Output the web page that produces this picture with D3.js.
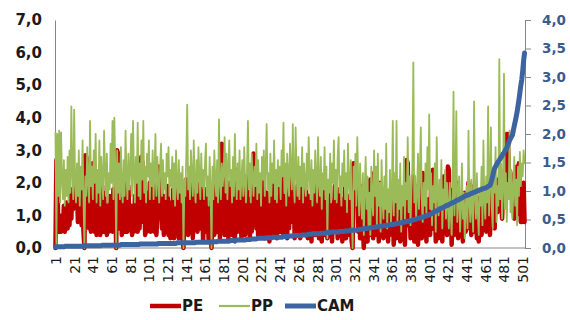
<!DOCTYPE html>
<html lang="en">
<head>
    <meta charset="UTF-8">
    <title>PE / PP / CAM</title>
    <script src="https://d3js.org/d3.v7.min.js"></script>
    <style>
        body { margin: 0; background: #fff; }
        svg { display: block; }
        .lab { font-family: "DejaVu Sans", sans-serif; }
    </style>
</head>
<body>
<svg width="570" height="320"></svg>
<script>
    const pe = [
        0.0,2.7,2.6,0.5,0.6,0.8,0.5,1.0,0.6,1.3,0.5,0.9,1.4,0.6,1.1,0.7,1.6,0.9,1.8,1.2,
        1.5,2.0,1.4,1.9,0.8,1.6,1.0,2.0,0.7,1.2,0.5,0.0,2.85,2.8,2.6,1.1,0.6,1.8,0.5,1.5,
        2.6,2.5,0.5,1.2,0.4,1.9,0.6,1.4,0.4,1.0,1.9,0.5,1.7,0.8,1.3,0.4,1.1,0.5,1.6,0.7,
        1.2,0.5,1.8,0.9,1.4,0.0,3.0,2.9,2.2,0.6,1.5,0.4,1.3,0.8,2.1,0.5,1.2,0.5,1.9,1.0,
        0.6,1.3,0.4,1.0,0.5,1.6,0.7,2.2,0.5,1.1,0.6,1.8,2.8,2.6,0.8,1.5,0.4,1.2,0.5,1.7,
        0.7,2.0,0.5,1.0,2.2,1.5,0.5,1.2,0.4,0.9,2.5,2.4,1.3,2.0,0.6,1.4,0.4,1.6,0.5,1.1,
        1.9,0.4,0.8,0.3,1.4,0.6,1.8,0.3,1.0,2.0,0.5,1.3,0.3,1.7,0.8,2.0,0.3,0.0,1.1,0.6,
        2.1,1.8,0.4,1.2,2.0,0.9,1.6,0.3,1.1,0.7,1.9,1.5,0.5,1.8,1.0,2.0,0.6,1.4,0.2,1.2,
        1.8,0.5,1.6,0.9,0.2,1.4,0.6,0.0,1.3,1.9,0.4,1.1,0.7,2.0,0.5,1.5,0.3,1.8,3.2,3.1,
        2.4,0.4,1.7,0.8,1.3,0.3,2.0,0.6,1.1,0.4,1.6,0.9,0.2,1.5,2.4,0.5,1.3,0.7,1.8,0.3,
        1.2,0.6,1.9,0.4,1.0,2.2,0.7,1.5,0.3,1.2,0.5,1.8,2.9,2.8,2.5,0.6,1.3,0.3,1.7,0.9,
        0.4,1.4,0.6,2.1,0.3,1.0,1.7,0.5,1.2,0.2,1.6,0.8,2.0,0.4,1.1,0.6,1.5,0.3,1.9,0.7,
        1.3,0.5,2.2,0.9,0.4,1.6,0.7,1.2,0.3,2.0,0.6,1.4,2.6,2.5,0.8,1.7,0.3,1.1,0.5,1.9,
        0.6,1.3,0.3,1.8,2.1,0.5,1.5,0.4,1.9,1.0,0.3,1.6,0.6,1.2,0.2,1.7,0.7,1.4,0.4,2.0,
        0.8,1.3,0.3,1.8,0.5,0.2,1.5,0.9,1.9,0.4,1.2,0.3,1.6,2.0,0.6,1.4,0.2,1.1,0.7,1.9,
        0.5,1.7,0.3,1.0,1.8,0.4,1.3,0.2,1.5,0.6,2.0,0.3,1.2,0.8,1.6,0.4,1.1,0.2,0.0,2.6,
        2.6,2.5,1.4,2.1,0.5,1.8,0.3,1.2,1.9,0.6,0.0,1.5,0.4,1.0,0.2,1.3,0.7,2.1,0.4,1.6,
        0.3,2.3,1.2,2.2,0.4,1.5,0.2,1.0,2.0,0.6,1.3,0.3,0.9,1.8,0.5,1.1,0.2,1.6,0.4,1.2,
        0.6,1.4,0.1,0.8,1.7,0.3,1.1,0.5,1.9,0.2,0.9,1.5,0.4,1.2,0.1,1.8,2.7,2.6,0.7,1.3,
        0.3,1.6,0.8,2.2,0.2,1.2,0.5,1.9,0.1,1.0,0.6,1.4,0.3,2.3,1.7,0.4,1.1,0.2,1.5,0.7,
        1.3,0.4,2.0,1.0,2.4,0.6,1.5,0.2,1.8,0.9,0.3,1.2,0.5,1.7,0.2,1.0,2.2,0.6,1.4,0.4,
        2.5,2.4,0.7,1.5,0.1,0.9,1.8,0.4,1.2,0.6,2.0,0.3,1.1,1.6,0.5,1.3,0.2,0.8,1.7,0.5,
        1.4,0.6,2.0,1.0,1.7,0.4,1.3,0.8,1.9,0.5,1.1,0.3,1.5,0.2,0.9,1.6,0.4,1.2,0.6,1.8,
        1.0,0.5,1.7,0.9,2.0,0.4,1.3,0.7,1.9,1.2,0.6,1.5,1.8,1.1,2.1,1.4,2.4,1.6,0.9,1.8,
        2.2,1.5,3.2,3.5,3.5,2.6,1.9,2.3,1.6,2.0,1.3,0.9,1.5,1.0,2.5,1.8,2.6,2.0,0.8,0.8,
        1.6,2.0,0.8
    ];
    const pp = [
        3.55,0.1,3.5,1.6,3.6,1.4,3.55,2.1,1.5,2.7,1.3,2.4,1.6,2.8,1.4,3.0,1.7,4.35,2.3,1.5,
        4.25,2.0,1.4,2.6,1.6,3.0,1.3,2.5,1.8,3.3,1.5,0.0,2.2,1.6,3.1,2.0,1.4,3.9,1.9,2.5,
        1.5,3.0,2.0,3.5,1.4,2.4,1.7,3.3,1.3,2.8,2.2,1.5,3.6,2.4,1.6,2.9,1.4,2.3,1.8,3.2,
        2.0,3.9,1.5,4.0,2.5,0.0,3.0,1.7,2.6,1.5,3.1,2.0,1.4,2.7,1.6,3.6,2.2,1.5,2.9,1.8,
        2.4,3.5,1.6,3.9,2.3,1.4,2.8,2.0,3.85,1.6,2.6,1.5,3.3,2.1,3.9,1.7,2.5,1.4,2.9,2.2,
        3.3,1.5,2.6,1.9,3.0,1.5,2.4,3.5,1.6,2.8,2.1,1.4,2.5,3.2,1.6,2.7,1.8,2.3,1.5,2.9,
        2.2,3.1,1.6,2.4,1.9,2.8,1.5,2.6,1.3,3.0,2.0,1.5,2.7,1.7,2.3,1.4,2.5,0.0,2.1,1.6,
        2.8,4.4,1.8,2.5,1.5,3.0,2.2,1.6,3.3,2.0,1.4,2.7,1.7,3.1,2.3,1.5,2.9,1.9,2.4,1.5,
        2.6,3.2,1.6,2.2,1.3,2.8,1.8,0.0,2.5,1.5,3.0,2.1,1.6,2.7,1.4,3.95,2.0,1.5,2.6,1.9,
        2.3,3.4,1.7,2.9,1.5,2.5,3.3,1.9,2.4,1.4,2.8,1.6,3.5,2.2,1.5,2.6,1.8,3.0,1.5,2.1,
        2.7,1.6,3.1,2.0,1.4,2.4,3.9,1.8,2.6,1.4,2.9,2.2,1.6,2.5,1.9,3.2,1.5,2.7,1.7,2.3,
        1.3,2.8,2.1,3.0,1.6,2.5,3.8,1.8,2.3,1.4,2.9,1.6,2.6,2.0,3.3,1.5,2.4,1.4,2.7,1.9,
        2.5,1.5,3.0,2.2,3.85,1.7,2.6,1.3,2.9,2.0,1.6,3.2,2.4,1.8,3.8,2.1,1.4,3.7,2.3,1.6,
        2.8,1.5,2.5,1.9,3.1,1.4,2.6,2.0,1.6,2.9,1.8,3.4,2.2,1.5,2.7,1.3,2.4,1.7,3.0,2.1,
        1.4,3.4,2.0,1.6,2.8,1.2,2.3,1.8,3.1,1.5,2.5,0.3,2.1,1.7,2.9,1.4,2.6,2.0,3.3,1.5,
        2.4,1.4,2.8,3.4,1.7,2.2,1.3,2.6,1.9,3.0,1.5,2.3,1.1,3.2,2.0,1.5,2.7,1.3,0.0,2.5,
        1.8,2.9,1.3,3.4,2.1,1.0,2.6,1.6,0.9,2.3,0.4,1.9,2.8,1.2,2.2,0.6,1.7,0.4,2.5,1.4,
        1.0,3.0,1.6,2.5,0.7,2.9,1.3,2.0,0.5,2.7,1.5,0.9,2.2,1.2,3.2,0.6,1.8,1.1,2.4,0.8,
        1.6,3.9,1.0,2.3,1.4,3.9,0.8,2.1,1.2,2.6,0.5,1.9,1.3,2.8,0.9,2.0,1.5,3.4,1.1,2.2,
        0.7,1.8,2.5,5.7,1.4,2.2,0.9,1.7,2.9,1.2,2.4,3.7,1.5,0.8,2.0,1.3,2.6,1.0,3.1,1.8,
        4.1,1.2,2.3,0.7,1.9,1.4,2.6,0.5,3.4,1.7,1.0,2.1,1.3,2.7,0.6,1.8,1.2,2.4,0.9,2.0,
        1.3,0.6,2.0,1.1,0.4,1.6,4.8,1.0,1.9,4.2,0.8,1.5,2.2,0.5,1.3,2.6,0.9,1.7,0.3,1.2,
        1.9,0.6,3.6,1.4,0.8,2.1,1.2,0.5,4.5,1.6,0.9,2.3,1.1,0.4,1.8,1.3,2.5,0.7,3.3,1.5,
        0.9,2.2,1.4,4.35,1.0,2.0,3.7,1.2,0.6,2.4,1.7,3.1,0.8,1.9,1.3,5.8,1.5,2.6,0.9,1.8,
        5.35,1.2,2.3,0.8,2.0,1.5,3.6,1.1,2.4,0.9,1.7,2.8,1.3,2.1,0.7,2.5,1.6,2.95,1.9,2.6,
        2.2,3.0,2.6
    ];
    const cam = [
        0.02,0.02,0.02,0.02,0.02,0.02,0.02,0.02,0.02,0.02,0.03,0.03,0.03,0.03,0.03,0.03,0.03,0.03,0.03,0.03,
        0.03,0.03,0.03,0.03,0.03,0.03,0.03,0.03,0.03,0.03,0.04,0.04,0.04,0.04,0.04,0.04,0.04,0.04,0.04,0.04,
        0.04,0.04,0.04,0.04,0.04,0.04,0.04,0.04,0.04,0.04,0.05,0.05,0.05,0.05,0.05,0.05,0.05,0.05,0.05,0.05,
        0.05,0.05,0.05,0.05,0.05,0.05,0.05,0.05,0.05,0.05,0.06,0.06,0.06,0.06,0.06,0.06,0.06,0.06,0.06,0.06,
        0.06,0.06,0.06,0.06,0.06,0.06,0.06,0.06,0.06,0.06,0.07,0.07,0.07,0.07,0.07,0.07,0.07,0.07,0.07,0.07,
        0.07,0.07,0.07,0.07,0.07,0.07,0.07,0.07,0.07,0.07,0.08,0.08,0.08,0.08,0.08,0.08,0.08,0.08,0.08,0.08,
        0.08,0.08,0.08,0.08,0.08,0.08,0.08,0.08,0.08,0.08,0.09,0.09,0.09,0.09,0.09,0.09,0.09,0.09,0.09,0.09,
        0.09,0.09,0.09,0.09,0.09,0.09,0.09,0.09,0.09,0.09,0.10,0.10,0.10,0.10,0.10,0.10,0.10,0.10,0.10,0.10,
        0.10,0.10,0.10,0.10,0.10,0.10,0.10,0.11,0.11,0.11,0.11,0.11,0.11,0.11,0.12,0.12,0.12,0.12,0.12,0.12,
        0.12,0.12,0.12,0.12,0.12,0.12,0.12,0.13,0.13,0.13,0.13,0.13,0.13,0.13,0.14,0.14,0.14,0.14,0.14,0.14,
        0.14,0.14,0.14,0.14,0.15,0.15,0.15,0.15,0.15,0.15,0.16,0.16,0.16,0.16,0.16,0.16,0.17,0.17,0.17,0.17,
        0.17,0.17,0.17,0.17,0.17,0.17,0.18,0.18,0.18,0.18,0.18,0.18,0.18,0.19,0.19,0.19,0.19,0.19,0.19,0.19,
        0.19,0.19,0.19,0.19,0.20,0.20,0.20,0.20,0.20,0.20,0.21,0.21,0.21,0.21,0.21,0.22,0.22,0.22,0.22,0.22,
        0.22,0.22,0.22,0.22,0.23,0.23,0.23,0.23,0.23,0.23,0.24,0.24,0.24,0.24,0.24,0.25,0.25,0.25,0.25,0.25,
        0.25,0.25,0.25,0.25,0.26,0.26,0.26,0.26,0.26,0.26,0.27,0.27,0.27,0.27,0.27,0.28,0.28,0.28,0.28,0.28,
        0.28,0.28,0.28,0.28,0.29,0.29,0.29,0.29,0.29,0.29,0.30,0.30,0.30,0.30,0.30,0.31,0.31,0.31,0.31,0.31,
        0.31,0.31,0.32,0.32,0.32,0.32,0.33,0.33,0.33,0.33,0.34,0.34,0.34,0.34,0.35,0.35,0.35,0.35,0.36,0.36,
        0.36,0.36,0.37,0.37,0.37,0.37,0.38,0.38,0.38,0.38,0.39,0.39,0.39,0.39,0.40,0.40,0.40,0.40,0.41,0.41,
        0.41,0.41,0.42,0.42,0.42,0.43,0.43,0.43,0.44,0.44,0.44,0.45,0.45,0.45,0.46,0.46,0.47,0.47,0.47,0.48,
        0.48,0.48,0.49,0.49,0.50,0.50,0.51,0.51,0.52,0.52,0.53,0.53,0.54,0.54,0.55,0.55,0.56,0.56,0.57,0.58,
        0.58,0.59,0.60,0.61,0.62,0.63,0.64,0.65,0.65,0.66,0.67,0.68,0.69,0.70,0.70,0.71,0.72,0.73,0.74,0.75,
        0.75,0.76,0.77,0.78,0.79,0.79,0.80,0.81,0.82,0.83,0.84,0.84,0.85,0.86,0.87,0.88,0.89,0.90,0.91,0.92,
        0.92,0.93,0.93,0.94,0.95,0.96,0.96,0.97,0.98,0.98,0.99,1.00,1.00,1.01,1.02,1.02,1.03,1.04,1.04,1.05,
        1.05,1.06,1.07,1.08,1.09,1.10,1.14,1.20,1.27,1.34,1.40,1.43,1.46,1.49,1.52,1.54,1.57,1.59,1.62,1.65,
        1.67,1.70,1.73,1.76,1.80,1.84,1.89,1.92,1.95,1.98,2.06,2.14,2.22,2.30,2.38,2.49,2.60,2.72,2.85,2.95,
        3.10,3.28,3.42
    ];
    const xTickLabels = [1,21,41,61,81,101,121,141,161,181,201,221,241,261,281,301,321,341,361,381,401,421,441,461,481,501];
    const leftTicks = [0,1,2,3,4,5,6,7];
    const rightTicks = [0,0.5,1,1.5,2,2.5,3,3.5,4];
    const seriesNames = ["PE", "PP", "CAM"];
    const seriesColors = ["#c00000", "#9bbb59", "#3b64a0"];
    const seriesWidths = [4.5, 1.8, 5];

    const svg = d3.select("svg");
    const mLeft = 55, mRight = 525, mTop = 20, mBottom = 248;

    const idx = d3.range(1, pe.length + 1);
    const x = d3.scalePoint().domain(idx).range([mLeft, mRight]).padding(0.5);
    const yL = d3.scaleLinear().domain([0, 7]).range([mBottom, mTop]);
    const yR = d3.scaleLinear().domain([0, 4]).range([mBottom, mTop]);
    const fmt = d => d3.format(".1f")(d).replace(".", ",");

    // axes
    const axL = svg.append("g").attr("transform", `translate(${mLeft},0)`)
        .call(d3.axisLeft(yL).tickValues(leftTicks).tickSize(0).tickPadding(13).tickFormat(fmt));
    axL.select(".domain").attr("stroke", "#868686");
    axL.selectAll("text").attr("class", "lab").attr("font-size", 15).attr("font-weight", "bold").attr("fill", "#1a1a1a");

    const axR = svg.append("g").attr("transform", `translate(${mRight},0)`)
        .call(d3.axisRight(yR).tickValues(rightTicks).tickSize(6).tickPadding(11).tickSizeOuter(0).tickFormat(fmt));
    axR.select(".domain").attr("stroke", "#868686");
    axR.selectAll("line").attr("stroke", "#868686");
    axR.selectAll("text").attr("class", "lab").attr("font-size", 13.5).attr("font-weight", "bold").attr("fill", "#3b5b8f");

    const axB = svg.append("g").attr("transform", `translate(0,${mBottom})`)
        .call(d3.axisBottom(x).tickValues(xTickLabels).tickSize(0).tickSizeOuter(0));
    axB.select(".domain").attr("stroke", "#868686").attr("d", `M${mLeft},0H${mRight}`);
    axB.selectAll("text").attr("class", "lab").attr("font-size", 14).attr("fill", "#1a1a1a")
        .attr("transform", "rotate(-90)").attr("text-anchor", "end")
        .attr("x", -8).attr("y", 0).attr("dy", "0.35em");

    // lines
    const data = [pe, pp, cam];
    data.forEach(function (vals, k) {
        const sc = k === 2 ? yR : yL;
        const line = d3.line().x((d, i) => x(i + 1)).y(d => sc(d));
        svg.append("path")
            .datum(vals)
            .attr("d", line)
            .attr("fill", "none")
            .attr("stroke", seriesColors[k])
            .attr("stroke-width", seriesWidths[k])
            .attr("stroke-linejoin", "round")
            .attr("stroke-linecap", "round");
    });

    // legend
    const legX = [150, 219, 285];
    const lg = svg.append("g");
    seriesNames.forEach(function (name, k) {
        lg.append("line")
            .attr("x1", legX[k]).attr("x2", legX[k] + 31)
            .attr("y1", 306).attr("y2", 306)
            .attr("stroke", seriesColors[k])
            .attr("stroke-width", k === 1 ? 2.2 : seriesWidths[k]);
        lg.append("text").attr("class", "lab")
            .attr("x", legX[k] + 32).attr("y", 306).attr("dy", "0.36em")
            .attr("font-size", 15).attr("font-weight", "bold").attr("fill", "#1a1a1a")
            .text(name);
    });
</script>
</body>
</html>
